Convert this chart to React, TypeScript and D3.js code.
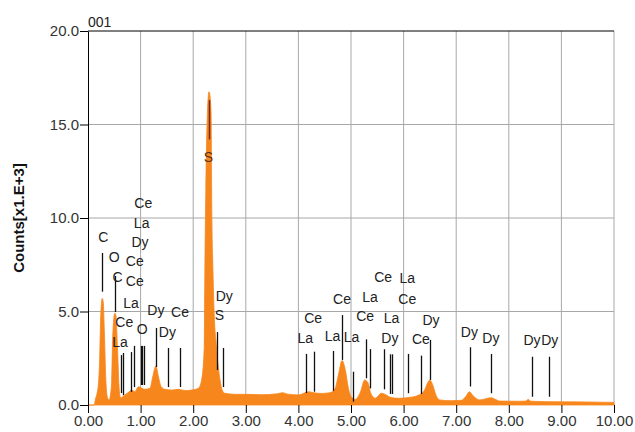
import React, { useEffect, useRef } from 'react';
import * as d3 from 'd3';

// spectrum, keV vs counts (x1000)
const energy = [
  0.0, 0.12, 0.14, 0.17, 0.2, 0.22, 0.24, 0.27, 0.29, 0.31, 0.34, 0.37, 0.4, 0.43, 0.45, 0.47,
  0.51, 0.53, 0.56, 0.59, 0.61, 0.63, 0.66, 0.7, 0.76, 0.83, 0.89, 0.96, 1.02, 1.08, 1.18, 1.23,
  1.29, 1.34, 1.39, 1.46, 1.59, 1.72, 1.84, 1.97, 2.1, 2.16, 2.21, 2.22, 2.24, 2.27, 2.3, 2.31,
  2.34, 2.35, 2.38, 2.41, 2.43, 2.47, 2.51, 2.55, 2.6, 2.79, 3.0, 3.3, 3.6, 3.7, 3.8, 4.0,
  4.2, 4.3, 4.45, 4.6, 4.7, 4.76, 4.83, 4.89, 4.95, 5.0, 5.08, 5.18, 5.26, 5.32, 5.38, 5.46,
  5.58, 5.66, 5.76, 5.9, 6.1, 6.3, 6.4, 6.46, 6.5, 6.55, 6.62, 6.69, 6.9, 7.1, 7.18, 7.25,
  7.32, 7.45, 7.58, 7.66, 7.75, 7.83, 8.2, 8.32, 8.37, 8.42, 9.0, 9.5, 10.0
];
const counts = [
  0, 0, 0.3, 0.6, 1.2, 2.3, 4.6, 5.7, 5.5, 4.0, 1.3, 0.4, 0.27, 0.6, 1.3, 3.7,
  4.9, 4.8, 3.1, 1.0, 0.45, 0.37, 0.45, 0.54, 0.65, 0.8, 0.71, 0.98, 0.9, 0.84, 0.9, 1.5,
  2.09, 1.5, 0.98, 0.84, 0.8, 0.84, 0.77, 0.8, 0.9, 1.34, 3.1, 6.7, 11.5, 15.6, 16.75, 16.7,
  15.6, 11.5, 6.7, 4.2, 3.5, 2.2, 1.34, 0.8, 0.63, 0.57, 0.57, 0.55, 0.6, 0.66, 0.58, 0.54,
  0.71, 0.65, 0.62, 0.66, 0.9, 1.6, 2.38, 1.9, 0.9, 0.45, 0.3, 0.7, 1.34, 1.2, 0.6, 0.36,
  0.63, 0.55, 0.4, 0.36, 0.4, 0.55, 0.8, 1.2, 1.34, 1.1, 0.5, 0.27, 0.23, 0.25, 0.45, 0.71,
  0.5, 0.27, 0.35, 0.39, 0.3, 0.21, 0.2, 0.21, 0.3, 0.2, 0.17, 0.16, 0.14
];

// element marker lines
const markerEnergy = [
  0.27, 0.52, 0.62, 0.66, 0.81, 0.88, 1.0, 1.03, 1.06, 1.29, 1.53, 1.75, 2.46, 2.57,
  4.14, 4.29, 4.66, 4.83, 5.03, 5.29, 5.37, 5.63, 5.75, 5.78, 6.08, 6.34, 6.5, 7.26,
  7.66, 8.45, 8.77
];
const markerTop = [
  8.13, 6.9, 2.67, 2.78, 2.83, 3.16, 3.16, 3.16, 3.16, 4.12, 3.05, 3.05, 3.9, 3.05,
  2.73, 2.85, 2.89, 4.81, 1.78, 3.51, 2.99, 2.98, 2.71, 2.71, 2.73, 2.64, 3.48, 3.09,
  2.73, 2.58, 2.58
];
const markerBottom = [
  6.06, 4.97, 0.64, 0.53, 0.7, 0.96, 1.07, 1.07, 1.07, 2.03, 0.96, 0.96, 1.87, 0.96,
  0.64, 0.71, 0.76, 2.41, 0.18, 1.43, 0.89, 0.84, 0.59, 0.59, 0.63, 0.59, 1.34, 0.99,
  0.63, 0.44, 0.44
];

const labelText = [
  'C', 'O', 'C', 'Ce', 'Ce', 'La', 'Ce', 'La', 'O', 'Ce', 'La', 'Dy', 'Dy', 'Dy', 'Ce',
  'Dy', 'S', 'La', 'Ce', 'La', 'La', 'Ce', 'La', 'Ce', 'Ce', 'La', 'Ce', 'La', 'Dy',
  'Dy', 'Ce', 'Dy', 'Dy', 'Dy', 'Dy'
];
const labelEnergy = [
  0.29, 0.5, 0.56, 0.89, 0.89, 0.82, 0.69, 0.61, 1.03, 1.05, 1.02, 0.99, 1.29, 1.51, 1.75,
  2.59, 2.5, 4.13, 4.28, 4.65, 5.01, 4.83, 5.36, 5.27, 5.61, 6.07, 6.07, 5.77, 5.74,
  6.52, 6.33, 7.25, 7.66, 8.44, 8.78
];
const labelCounts = [
  8.97, 7.9, 6.86, 7.7, 6.6, 5.47, 4.45, 3.39, 4.05, 10.82, 9.75, 8.7, 5.08, 3.92, 4.96,
  5.84, 4.81, 3.57, 4.64, 3.69, 3.62, 5.65, 5.76, 4.76, 6.86, 6.78, 5.68, 4.64, 3.57,
  4.55, 3.51, 3.92, 3.57, 3.48, 3.48
];

// the S K-alpha marker sits inside the big peak
const sLine = { e: 2.31, top: 16.3, bottom: 14.2, labelCounts: 13.26 };

const xTicks = [0, 1, 2, 3, 4, 5, 6, 7, 8, 9, 10];
const yTicks = [0, 5, 10, 15, 20];

function App() {
  const svgRef = useRef<SVGSVGElement>(null);

  useEffect(() => {
    const svg = d3.select(svgRef.current);
    svg.selectAll('*').remove();

    const font = "'Liberation Sans', Arial, sans-serif";
    const x = d3.scaleLinear().domain([0, 10]).range([88, 614]);
    const y = d3.scaleLinear().domain([0, 20]).range([405, 31]);

    // grid
    svg.append('g')
      .selectAll('line')
      .data(xTicks.slice(1))
      .join('line')
      .attr('x1', d => x(d)).attr('x2', d => x(d))
      .attr('y1', y(20)).attr('y2', y(0))
      .attr('stroke', '#a8a8a8').attr('stroke-width', 1);

    svg.append('g')
      .selectAll('line')
      .data(yTicks.slice(1, -1))
      .join('line')
      .attr('x1', x(0)).attr('x2', x(10))
      .attr('y1', d => y(d)).attr('y2', d => y(d))
      .attr('stroke', '#a8a8a8').attr('stroke-width', 1);

    // spectrum
    const pts = energy.map((e, i) => ({ e, c: counts[i] }));
    const area = d3.area<{ e: number; c: number }>()
      .x(d => x(d.e))
      .y0(y(0))
      .y1(d => y(d.c))
      .curve(d3.curveMonotoneX);

    svg.append('path')
      .datum(pts)
      .attr('d', area)
      .attr('fill', '#f7871c')
      .attr('stroke', '#f7871c')
      .attr('stroke-width', 0.8);

    // axes
    const yAxis = svg.append('g')
      .attr('transform', `translate(${x(0)},0)`)
      .call(d3.axisLeft(y).tickValues(yTicks).tickFormat(d3.format('.1f')).tickSize(8).tickSizeOuter(0).tickPadding(1));
    yAxis.select('.domain').attr('stroke', '#000');
    yAxis.selectAll('line').attr('stroke', '#000');
    yAxis.selectAll('text')
      .attr('fill', '#333')
      .style('font-family', font)
      .style('font-size', '15px');

    const xAxis = svg.append('g')
      .attr('transform', `translate(0,${y(0)})`)
      .call(d3.axisBottom(x).tickValues(xTicks).tickFormat(d3.format('.2f')).tickSize(8).tickSizeOuter(0).tickPadding(2));
    xAxis.select('.domain').remove();
    xAxis.selectAll('line').attr('stroke', '#000');
    xAxis.selectAll('text')
      .attr('fill', '#333')
      .style('font-family', font)
      .style('font-size', '15px');

    // top border
    svg.append('line')
      .attr('x1', x(0)).attr('x2', x(10))
      .attr('y1', y(20)).attr('y2', y(20))
      .attr('stroke', '#000');

    // marker lines
    svg.append('g')
      .selectAll('line')
      .data(markerEnergy)
      .join('line')
      .attr('x1', d => Math.round(x(d)) + 0.5)
      .attr('x2', d => Math.round(x(d)) + 0.5)
      .attr('y1', (d, i) => y(markerTop[i]))
      .attr('y2', (d, i) => y(markerBottom[i]))
      .attr('stroke', '#111')
      .attr('stroke-width', 1.3);

    svg.append('g')
      .selectAll('text')
      .data(labelText)
      .join('text')
      .attr('x', (d, i) => x(labelEnergy[i]))
      .attr('y', (d, i) => y(labelCounts[i]))
      .attr('dy', '0.35em')
      .attr('text-anchor', 'middle')
      .attr('fill', '#222')
      .style('font-family', font)
      .style('font-size', '14px')
      .text(d => d);

    svg.append('line')
      .attr('x1', x(sLine.e)).attr('x2', x(sLine.e))
      .attr('y1', y(sLine.top)).attr('y2', y(sLine.bottom))
      .attr('stroke', '#7a2a12')
      .attr('stroke-width', 1.5);

    svg.append('text')
      .attr('x', x(sLine.e) - 1)
      .attr('y', y(sLine.labelCounts))
      .attr('dy', '0.35em')
      .attr('text-anchor', 'middle')
      .attr('fill', '#5a3018')
      .style('font-family', font)
      .style('font-size', '14px')
      .text('S');

    // titles
    svg.append('text')
      .attr('x', x(0))
      .attr('y', 27)
      .attr('fill', '#222')
      .style('font-family', font)
      .style('font-size', '14px')
      .text('001');

    svg.append('text')
      .attr('transform', 'rotate(-90)')
      .attr('x', -218)
      .attr('y', 24)
      .attr('text-anchor', 'middle')
      .attr('fill', '#111')
      .style('font-family', font)
      .style('font-size', '15px')
      .style('font-weight', 'bold')
      .text('Counts[x1.E+3]');
  }, []);

  return (
    <svg
      ref={svgRef}
      width={635}
      height={432}
      style={{ position: 'absolute', left: 0, top: 0, background: '#fff' }}
    />
  );
}

export default App;
